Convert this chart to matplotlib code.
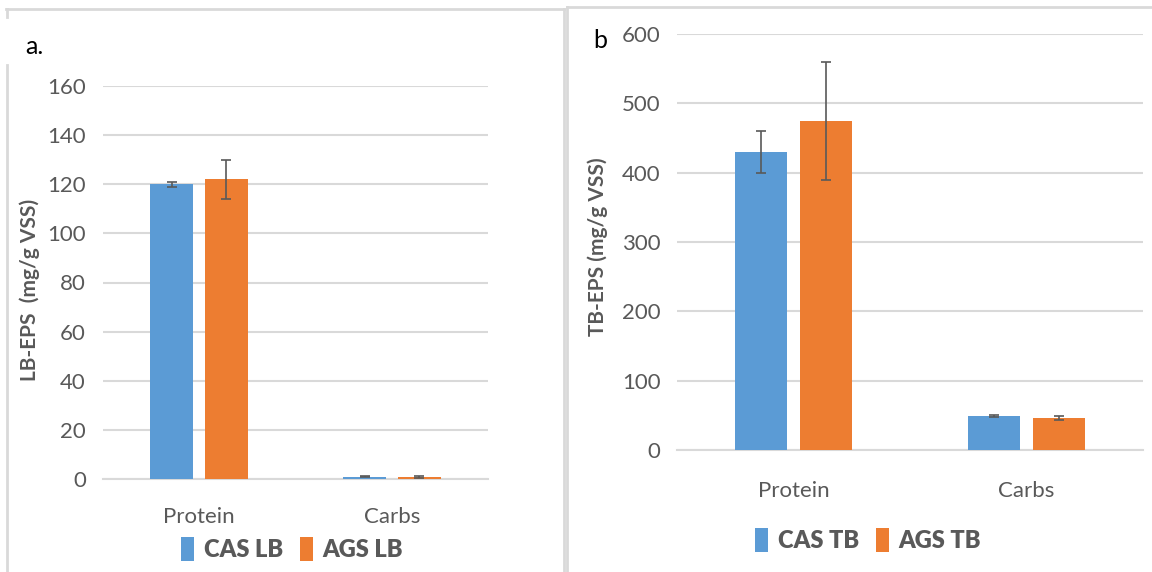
import numpy as np
import matplotlib.pyplot as plt
from matplotlib.lines import Line2D

plt.rcParams['font.family'] = ['Lato', 'DejaVu Sans']

categories = ['Protein', 'Carbs']

lb_cas = [120, 1]
lb_cas_err = [1, 0.3]
lb_ags = [122, 1]
lb_ags_err = [8, 0.4]
lb_ticks = [0, 20, 40, 60, 80, 100, 120, 140, 160]

tb_cas = [430, 49]
tb_cas_err = [30, 1]
tb_ags = [475, 46]
tb_ags_err = [85, 3]
tb_ticks = [0, 100, 200, 300, 400, 500, 600]

blue = '#5b9bd5'
orange = '#ed7d31'
grey = '#595959'
grid = '#d9d9d9'

W, H = 1152, 572
fig = plt.figure(figsize=(W / 100, H / 100), dpi=100)


def px(x0, y_top, x1, y_bot):
    return [x0 / W, 1 - y_bot / H, (x1 - x0) / W, (y_bot - y_top) / H]


def panel(ax, cas, cas_err, ags, ags_err, ticks, labels, xpad):
    x = np.arange(len(categories))
    w = 0.223
    off = w / 2 + 0.03
    b1 = ax.bar(x - off, cas, w, color=blue, zorder=3, label=labels[0])
    b2 = ax.bar(x + off, ags, w, color=orange, zorder=3, label=labels[1])
    ax.errorbar(x - off, cas, yerr=cas_err, fmt='none', ecolor=grey,
                elinewidth=1.2, capsize=3.5, capthick=1.2, zorder=4)
    ax.errorbar(x + off, ags, yerr=ags_err, fmt='none', ecolor=grey,
                elinewidth=1.2, capsize=3.5, capthick=1.2, zorder=4)
    ax.set_xlim(-0.5, 1.5)
    ax.set_ylim(ticks[0], ticks[-1])
    ax.set_yticks(ticks)
    ax.set_xticks(x)
    ax.set_xticklabels(categories)
    ax.tick_params(length=0, labelsize=16, colors=grey, pad=12)
    ax.tick_params(axis='x', pad=xpad)
    ax.yaxis.grid(True, color=grid, lw=1.5, zorder=0)
    for s in ['top', 'right', 'left']:
        ax.spines[s].set_visible(False)
    ax.spines['bottom'].set_color(grid)
    ax.spines['bottom'].set_linewidth(1.5)
    return b1, b2


ax1 = fig.add_axes(px(102.5, 86, 488.5, 479))
h1 = panel(ax1, lb_cas, lb_cas_err, lb_ags, lb_ags_err, lb_ticks,
           ['CAS LB', 'AGS LB'], 20)
ax1.legend(handles=list(h1), loc='center', bbox_to_anchor=(292 / W, 1 - 549 / H),
           bbox_transform=fig.transFigure, ncol=2, frameon=False,
           handlelength=0.55, handleheight=1.2, handletextpad=0.4,
           columnspacing=0.7, prop={'weight': 'heavy', 'size': 17},
           labelcolor=grey)

ax2 = fig.add_axes(px(677, 34, 1143, 450))
h2 = panel(ax2, tb_cas, tb_cas_err, tb_ags, tb_ags_err, tb_ticks,
           ['CAS TB', 'AGS TB'], 22)
ax2.legend(handles=list(h2), loc='center', bbox_to_anchor=(868 / W, 1 - 540 / H),
           bbox_transform=fig.transFigure, ncol=2, frameon=False,
           handlelength=0.55, handleheight=1.2, handletextpad=0.4,
           columnspacing=0.7, prop={'weight': 'heavy', 'size': 17},
           labelcolor=grey)

fig.text(30 / W, 1 - 290 / H, 'LB-EPS  (mg/g VSS)', rotation=90, ha='center',
         va='center', fontsize=15, fontweight='bold', color=grey)
fig.text(598 / W, 1 - 247 / H, 'TB-EPS (mg/g VSS)', rotation=90, ha='center',
         va='center', fontsize=15, fontweight='bold', color=grey)

fig.text(25 / W, 1 - 46 / H, 'a.', ha='left', va='center', fontsize=18,
         color='black')
fig.text(593 / W, 1 - 41 / H, 'b', ha='left', va='center', fontsize=18,
         color='black')

# panel borders
border = dict(color='#d9d9d9', lw=2, transform=fig.transFigure)
fig.add_artist(Line2D([6 / W, 564 / W], [1 - 9 / H, 1 - 9 / H], **border))
fig.add_artist(Line2D([6.5 / W, 6.5 / W], [1 - 9 / H, 1 - 17 / H], **border))
fig.add_artist(Line2D([6.5 / W, 6.5 / W], [1 - 65 / H, 0], **border))
fig.add_artist(Line2D([564 / W, 564 / W], [1 - 9 / H, 0], **border))
fig.add_artist(Line2D([567 / W, 567 / W], [1 - 7 / H, 0], **border))
fig.add_artist(Line2D([567 / W, 1], [1 - 7 / H, 1 - 7 / H], **border))

fig.savefig('out.png', dpi=100)
